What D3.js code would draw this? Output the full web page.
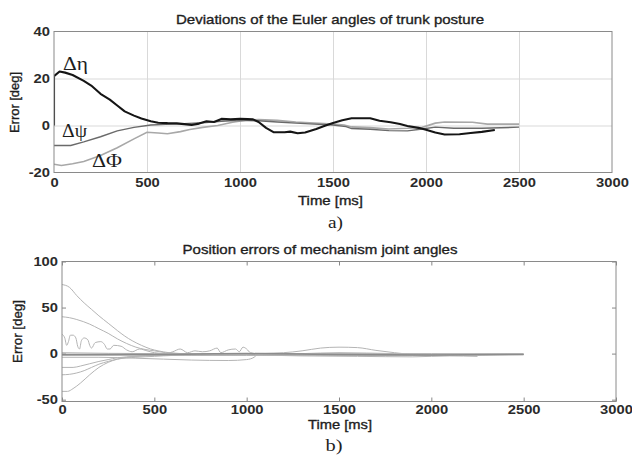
<!DOCTYPE html>
<html><head><meta charset="utf-8">
<script src="https://cdn.jsdelivr.net/npm/d3@7"></script>
<style>
body{margin:0;background:#fff;}
svg{display:block;}
</style></head>
<body>
<svg id="c" width="632" height="455"></svg>
<script>
// ---------- data (top chart a) ----------
const topXTicks = [0, 500, 1000, 1500, 2000, 2500, 3000];
const topYTicks = [-20, 0, 20, 40];
const etaSeries = [[0,0],[0,21],[30,23],[60,22.5],[100,21.5],[160,19],[200,17],[250,13.5],[300,11],[340,8.5],[380,6],[430,4.2],[470,3],[520,1.8],[560,1.2],[610,1],[660,0.9],[700,0.6],[740,0.2],[780,0.8],[820,1.8],[860,1.5],[900,2.8],[950,2.6],[1000,2.9],[1040,2.7],[1070,2.6],[1100,1.5],[1140,-1],[1180,-2.8],[1240,-2.9],[1270,-2.6],[1310,-3.3],[1350,-3.0],[1410,-1.5],[1460,0],[1500,1.1],[1550,2.2],[1600,3.1],[1700,3.1],[1750,2.0],[1810,1.4],[1860,0.6],[1900,-0.2],[1960,-1.0],[2000,-1.8],[2050,-3],[2100,-3.8],[2180,-3.7],[2240,-3.2],[2300,-2.7],[2370,-1.9]];
const psiSeries = [[0,-8.5],[90,-8.5],[160,-7],[250,-4.8],[340,-2.3],[430,-0.8],[520,0.2],[600,0.5],[700,0.8],[800,1.2],[900,1.8],[1000,2.2],[1100,2.0],[1200,1.5],[1300,1.0],[1400,0.6],[1500,0.2],[1570,-0.5],[1600,-1.3],[1700,-1.6],[1800,-2.2],[1900,-2.3],[1980,-1.5],[2050,-0.7],[2150,-1.2],[2300,-1.2],[2500,-0.7]];
const phiSeries = [[0,-16.5],[40,-17],[100,-16.3],[160,-15.3],[250,-12.8],[340,-9.5],[430,-5.7],[500,-2.9],[560,-3.2],[610,-3.5],[680,-2.6],[730,-1.7],[800,-0.8],[880,0],[960,1.4],[1040,2.4],[1100,2.5],[1200,2.2],[1300,1.5],[1400,1.0],[1500,0.6],[1560,0.2],[1600,-0.6],[1700,-0.9],[1800,-1.5],[1900,-1.2],[1980,-0.8],[2050,1.0],[2100,1.5],[2250,1.4],[2330,0.6],[2500,0.6]];
const topLabels = ["\u0394\u03b7", "\u0394\u03c8", "\u0394\u03a6"];

// ---------- data (bottom chart b) ----------
const botXTicks = [0, 500, 1000, 1500, 2000, 2500, 3000];
const botYTicks = [-50, 0, 50, 100];
const joint1 = [[0,75],[40,72],[80,63],[120,55],[160,48],[200,41],[250,33],[300,25],[340,19],[380,14],[430,9],[480,5],[520,3],[580,1],[650,0],[800,-1],[1000,-1],[1300,0],[1500,1],[1800,0],[2200,-1],[2500,-1]];
const joint2 = [[0,40],[40,39],[80,37],[150,32],[200,27],[250,22],[300,16],[350,11],[400,7],[450,4.5],[500,3],[560,1],[650,0],[900,0],[1200,0],[1500,-1],[2000,-1],[2500,-1]];
const joint3 = [[0,21],[15,17],[25,9],[35,13],[45,20],[60,20],[75,17],[85,8],[95,5],[105,14],[120,17],[140,15],[150,9],[160,6],[180,12],[210,13],[230,10],[245,5],[260,5],[280,9],[320,8],[350,4],[380,2],[420,5],[460,3],[500,1],[560,0],[600,2],[640,5],[680,1],[720,3],[760,2],[800,3],[840,6],[860,1],[900,4],[940,5],[960,2],[980,7],[1000,5],[1020,1],[1060,0],[1200,0],[1500,0],[2000,0],[2500,0]];
const joint4 = [[0,-15],[60,-15],[100,-13.5],[150,-11],[200,-8.5],[250,-6.5],[300,-4.5],[400,-3],[500,-2],[700,-2],[1000,-2],[1500,-2],[2000,-2],[2500,-1]];
const joint5 = [[0,-23],[40,-22.5],[80,-21],[120,-18.5],[160,-15],[200,-11.5],[250,-8.5],[300,-6],[400,-4],[500,-3],[600,-2],[1000,-1],[1600,-2],[2000,-1],[2500,-1]];
const joint6 = [[0,-41],[30,-41],[60,-38],[100,-32],[150,-23],[200,-15],[250,-9.5],[300,-6],[350,-4],[400,-3],[500,-2],[700,-1],[2500,-1]];
const joint7 = [[0,-4],[200,-4],[400,-5],[550,-6],[700,-7],[900,-7.5],[1000,-6.5],[1040,-4],[1060,-1],[1100,-1],[1500,-1],[2500,-1]];
const joint8 = [[0,1],[500,0],[1000,0],[1200,1],[1300,3],[1400,6],[1500,7],[1600,6.5],[1700,3.5],[1800,1],[1900,-1],[2000,-2],[2200,-1],[2500,-1]];
const joint9 = [[0,-2],[1000,-1.5],[1300,-2.5],[1600,-3],[1900,-3.5],[2100,-2.5],[2250,-3]];
const joint10 = [[0,-1],[500,-1],[1000,0],[1500,-1],[2000,-1.5],[2500,-1]];

const svg = d3.select("#c");
const SANS = "'Liberation Sans', Arial, Helvetica, sans-serif";
const SERIF = "'Liberation Serif', 'Times New Roman', serif";
const INK = "#1e1e1e";

function fitLen(sel, len){ sel.attr("textLength", len).attr("lengthAdjust","spacingAndGlyphs"); }
function stretch(sel, k){
  sel.each(function(){ const w=this.getComputedTextLength();
    this.setAttribute("textLength", w*k); this.setAttribute("lengthAdjust","spacingAndGlyphs"); });
}
function heavy(sel){ sel.attr("stroke",INK).attr("stroke-width",0.35); }
function styleTickText(g){
  g.select(".domain").remove();
  g.selectAll("text").style("font-family",SANS).style("font-size","12.5px").style("font-weight","bold").attr("fill","#2a2a2a");
  stretch(g.selectAll("text"), 1.18);
}
const fmt = d => String(d);

// ================= TOP CHART =================
const A = {l:54, r:612, t:31.5, b:172.5};
const xA = d3.scaleLinear().domain([0,3000]).range([A.l, A.r]);
const yA = d3.scaleLinear().domain([-20,40]).range([A.b, A.t]);
const gA = svg.append("g");

gA.append("clipPath").attr("id","clipA").append("rect")
  .attr("x",A.l).attr("y",A.t).attr("width",A.r-A.l).attr("height",A.b-A.t);

// grid
gA.append("g").attr("transform",`translate(0,${A.b})`)
  .call(d3.axisBottom(xA).tickValues(topXTicks.slice(1,-1)).tickSize(-(A.b-A.t)).tickFormat(""))
  .call(g=>g.select(".domain").remove())
  .call(g=>g.selectAll("line").attr("stroke","#d9d9d9"));
gA.append("g").attr("transform",`translate(${A.l},0)`)
  .call(d3.axisLeft(yA).tickValues(topYTicks.slice(1,-1)).tickSize(-(A.r-A.l)).tickFormat(""))
  .call(g=>g.select(".domain").remove())
  .call(g=>g.selectAll("line").attr("stroke","#d9d9d9"));

// tick labels
gA.append("g").attr("transform",`translate(0,${A.b})`)
  .call(d3.axisBottom(xA).tickValues(topXTicks).tickFormat(fmt).tickSize(0).tickPadding(6))
  .call(styleTickText);
gA.append("g").attr("transform",`translate(${A.l},0)`)
  .call(d3.axisLeft(yA).tickValues(topYTicks).tickFormat(fmt).tickSize(0).tickPadding(4))
  .call(styleTickText);

const lineA = d3.line().x(d=>xA(d[0])).y(d=>yA(d[1]));
const cA = gA.append("g").attr("clip-path","url(#clipA)");
cA.append("path").datum(phiSeries).attr("d",lineA).attr("fill","none").attr("stroke","#a8a8a8").attr("stroke-width",1.6);
cA.append("path").datum(psiSeries).attr("d",lineA).attr("fill","none").attr("stroke","#6a6a6a").attr("stroke-width",1.4);
cA.append("path").datum(etaSeries).attr("d",lineA).attr("fill","none").attr("stroke","#151515").attr("stroke-width",2.1).attr("stroke-linejoin","round");

// frame
gA.append("rect").attr("x",A.l).attr("y",A.t).attr("width",A.r-A.l).attr("height",A.b-A.t)
  .attr("fill","none").attr("stroke","#8a8a8a").attr("stroke-width",1);

// curve labels (x px, baseline px, width)
const lblBox = [[63,70,25],[62,137,25],[92,166.5,30]];
topLabels.forEach((s,i)=>{
  const t = gA.append("text").attr("x",lblBox[i][0]).attr("y",lblBox[i][1])
    .style("font-family",SERIF).style("font-size","18px").attr("fill",INK).text(s);
  fitLen(t, lblBox[i][2]);
});

let t;
t = gA.append("text").attr("x",330).attr("y",24).attr("text-anchor","middle").style("font-family",SANS).style("font-size","13.5px").attr("fill",INK)
  .text("Deviations of the Euler angles of trunk posture"); fitLen(t,308); heavy(t);
t = gA.append("text").attr("x",330.5).attr("y",205).attr("text-anchor","middle").style("font-family",SANS).style("font-size","13px").attr("fill",INK)
  .text("Time [ms]"); fitLen(t,65); heavy(t);
t = gA.append("text").attr("transform","translate(19,102.5) rotate(-90)").attr("text-anchor","middle").style("font-family",SANS).style("font-size","13px").attr("fill",INK)
  .text("Error [deg]"); fitLen(t,61); heavy(t);
t = gA.append("text").attr("x",335.5).attr("y",228).attr("text-anchor","middle").style("font-family",SERIF).style("font-size","16px").attr("fill",INK)
  .text("a)"); fitLen(t,15);

// ================= BOTTOM CHART =================
const B = {l:62, r:616, t:261.5, b:401.5};
const xB = d3.scaleLinear().domain([0,3000]).range([B.l, B.r]);
const yB = d3.scaleLinear().domain([-52,100]).range([B.b, B.t]);
const gB = svg.append("g");
gB.append("clipPath").attr("id","clipB").append("rect")
  .attr("x",B.l).attr("y",B.t).attr("width",B.r-B.l).attr("height",B.b-B.t);

const lineB = d3.line().x(d=>xB(d[0])).y(d=>yB(d[1])).curve(d3.curveMonotoneX);
const cB = gB.append("g").attr("clip-path","url(#clipB)");
const joints = [joint1,joint2,joint3,joint4,joint5,joint6,joint7,joint8,joint9];
joints.forEach(s=>{
  cB.append("path").datum(s).attr("d",lineB).attr("fill","none").attr("stroke","#b4b4b4").attr("stroke-width",1);
});
cB.append("path").datum(joint10).attr("d",lineB).attr("fill","none").attr("stroke","#8c8c8c").attr("stroke-width",1.5);

// inward ticks on all sides
function styleTicks(g){ g.select(".domain").remove(); g.selectAll("line").attr("stroke","#888"); g.selectAll("text").remove(); }
gB.append("g").attr("transform",`translate(0,${B.b})`).call(d3.axisBottom(xB).tickValues(botXTicks).tickSize(-4)).call(styleTicks);
gB.append("g").attr("transform",`translate(0,${B.t})`).call(d3.axisTop(xB).tickValues(botXTicks).tickSize(-4)).call(styleTicks);
gB.append("g").attr("transform",`translate(${B.l},0)`).call(d3.axisLeft(yB).tickValues(botYTicks).tickSize(-4)).call(styleTicks);
gB.append("g").attr("transform",`translate(${B.r},0)`).call(d3.axisRight(yB).tickValues(botYTicks).tickSize(-4)).call(styleTicks);

gB.append("g").attr("transform",`translate(0,${B.b})`)
  .call(d3.axisBottom(xB).tickValues(botXTicks).tickFormat(fmt).tickSize(0).tickPadding(4))
  .call(styleTickText);
gB.append("g").attr("transform",`translate(${B.l},0)`)
  .call(d3.axisLeft(yB).tickValues(botYTicks).tickFormat(fmt).tickSize(0).tickPadding(4))
  .call(styleTickText);

gB.append("rect").attr("x",B.l).attr("y",B.t).attr("width",B.r-B.l).attr("height",B.b-B.t)
  .attr("fill","none").attr("stroke","#8a8a8a").attr("stroke-width",1);

t = gB.append("text").attr("x",320).attr("y",254).attr("text-anchor","middle").style("font-family",SANS).style("font-size","13.5px").attr("fill",INK)
  .text("Position errors of mechanism joint angles"); fitLen(t,275); heavy(t);
t = gB.append("text").attr("x",340).attr("y",429).attr("text-anchor","middle").style("font-family",SANS).style("font-size","13px").attr("fill",INK)
  .text("Time [ms]"); fitLen(t,64); heavy(t);
t = gB.append("text").attr("transform","translate(22,331.5) rotate(-90)").attr("text-anchor","middle").style("font-family",SANS).style("font-size","13px").attr("fill",INK)
  .text("Error [deg]"); fitLen(t,63); heavy(t);
t = gB.append("text").attr("x",334).attr("y",450.5).attr("text-anchor","middle").style("font-family",SERIF).style("font-size","16px").attr("fill",INK)
  .text("b)"); fitLen(t,17);
</script>
</body></html>
